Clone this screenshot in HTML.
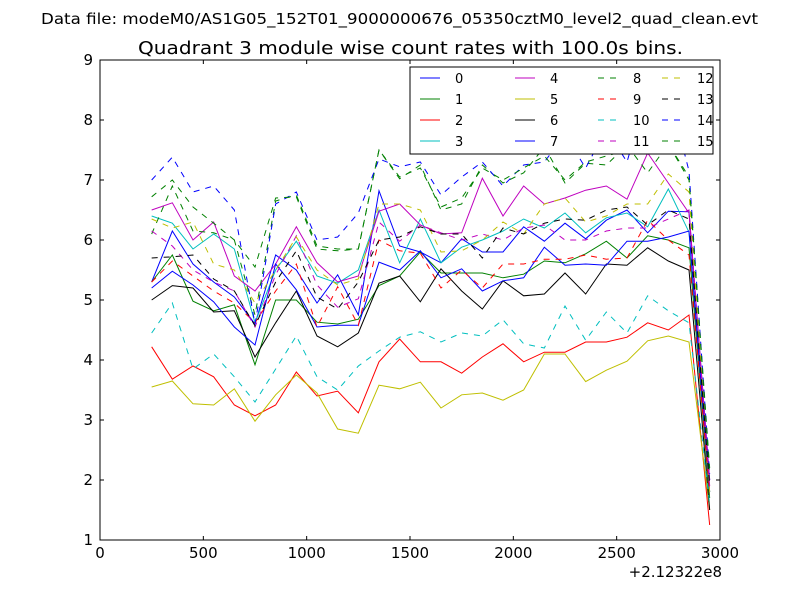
<!DOCTYPE html>
<html><head><meta charset="utf-8"><style>
body{margin:0;background:#fff;}
svg text{font-family:"DejaVu Sans","Liberation Sans",sans-serif;}
</style></head><body>
<svg id="chart" width="800" height="600" xmlns="http://www.w3.org/2000/svg">
<rect width="800" height="600" fill="#fff"/>
<text x="41" y="24" font-size="15" textLength="717" lengthAdjust="spacingAndGlyphs">Data file: modeM0/AS1G05_152T01_9000000676_05350cztM0_level2_quad_clean.evt</text>
<text x="138" y="54" font-size="18" textLength="545" lengthAdjust="spacingAndGlyphs">Quadrant 3 module wise count rates with 100.0s bins.</text>
<g id="plot"></g>
<rect x="100" y="60" width="620" height="480" fill="none" stroke="#000" stroke-width="1"/>
<g id="axes"></g>
<g id="legend"></g>
<text x="722" y="577" font-size="15" text-anchor="end">+2.12322e8</text>
</svg>
<script>
const xValues=[250,350,450,550,650,750,850,950,1050,1150,1250,1350,1450,1550,1650,1750,1850,1950,2050,2150,2250,2350,2450,2550,2650,2750,2850,2950];
const xTicks=[0,500,1000,1500,2000,2500,3000];
const yTicks=[1,2,3,4,5,6,7,8,9];
const seriesLabels=["0","1","2","3","4","5","6","7","8","9","10","11","12","13","14","15"];
const s0=[5.3,6.15,5.6,5.3,5.05,4.6,5.75,5.5,4.95,5.42,4.75,6.82,5.9,5.8,5.62,6.02,5.8,5.8,6.22,5.98,6.28,6.02,6.33,6.5,6.12,6.48,6.47,2.0];
const s1=[5.3,5.75,4.98,4.82,4.92,3.92,5.0,5.0,4.63,4.6,4.68,5.24,5.4,5.8,5.45,5.45,5.45,5.37,5.43,5.65,5.62,5.77,5.98,5.7,6.07,6.0,5.87,1.7];
const s2=[4.22,3.68,3.9,3.72,3.25,3.07,3.25,3.8,3.4,3.48,3.12,3.97,4.35,3.97,3.97,3.78,4.05,4.27,3.97,4.13,4.13,4.3,4.3,4.38,4.62,4.5,4.75,1.25];
const s3=[6.4,6.28,5.85,6.1,5.85,4.62,5.5,5.98,5.4,5.28,5.5,6.5,5.62,6.35,5.62,5.88,6.0,6.15,6.35,6.2,6.45,6.12,6.37,6.45,6.22,6.85,6.13,1.8];
const s4=[6.5,6.62,6.0,6.3,5.4,5.15,5.6,6.22,5.62,5.3,5.4,6.48,6.6,6.25,6.1,6.12,7.03,6.4,6.9,6.6,6.7,6.83,6.9,6.68,7.45,6.95,6.45,2.0];
const s5=[3.55,3.65,3.27,3.25,3.52,2.98,3.42,3.75,3.45,2.85,2.78,3.58,3.52,3.63,3.2,3.42,3.45,3.33,3.5,4.1,4.1,3.64,3.83,3.98,4.32,4.4,4.3,1.5];
const s6=[5.0,5.24,5.2,4.8,4.82,4.05,4.62,5.15,4.4,4.22,4.45,5.28,5.4,4.97,5.52,5.15,4.85,5.32,5.07,5.1,5.45,5.1,5.6,5.58,5.87,5.65,5.5,1.5];
const s7=[5.2,5.48,5.25,4.97,4.55,4.25,5.6,5.17,4.55,4.58,4.58,5.63,5.5,5.82,5.37,5.52,5.15,5.32,5.37,5.88,5.58,5.6,5.58,5.98,5.98,6.05,6.15,1.8];
const s8=[6.1,6.9,6.15,6.12,6.0,4.75,6.65,6.75,5.9,5.85,5.85,7.5,7.02,7.25,6.5,6.6,7.25,6.95,7.12,7.55,6.95,7.28,7.25,7.58,7.12,7.6,7.05,2.2];
const s9=[5.3,5.65,5.4,5.15,4.95,4.62,5.15,5.6,4.55,5.22,4.58,6.0,5.82,5.78,5.2,5.5,5.2,5.6,5.6,5.68,5.68,5.75,5.68,5.7,6.33,6.0,5.75,1.8];
const s10=[4.45,4.95,3.85,4.1,3.72,3.3,3.85,4.4,3.72,3.5,3.9,4.15,4.38,4.47,4.3,4.45,4.4,4.67,4.27,4.2,4.9,4.33,4.8,4.45,5.07,4.82,4.62,1.6];
const s11=[6.15,5.9,5.5,5.3,5.15,4.55,5.42,6.07,5.25,4.88,5.02,6.3,5.98,6.25,6.12,6.0,6.1,6.0,6.2,6.25,6.0,6.0,6.15,6.2,6.2,6.35,6.5,1.9];
const s12=[6.35,6.2,6.3,5.6,5.5,4.95,5.5,6.05,5.5,5.25,5.35,6.6,6.6,6.5,5.8,5.82,6.0,6.3,6.1,6.6,6.7,6.3,6.4,6.6,6.6,7.1,6.8,1.8];
const s13=[5.7,5.72,5.75,5.35,5.15,4.57,5.3,5.82,5.05,4.85,5.3,6.0,6.05,6.22,6.1,6.1,5.7,6.2,6.1,6.28,6.35,6.33,6.5,6.55,6.25,6.5,6.35,1.9];
const s14=[7.0,7.38,6.8,6.9,6.5,4.6,6.6,6.8,6.0,6.05,6.45,7.35,7.22,7.3,6.75,7.05,7.3,6.9,7.25,7.3,7.75,7.2,7.85,7.3,8.5,8.5,7.15,2.1];
const s15=[6.72,7.0,6.55,6.28,6.0,5.55,6.7,6.72,5.85,5.82,5.85,7.5,7.05,7.2,6.55,6.7,7.2,7.0,7.2,7.4,7.0,7.3,7.4,7.5,7.55,7.6,7.0,2.1];
const allSeries=[s0,s1,s2,s3,s4,s5,s6,s7,s8,s9,s10,s11,s12,s13,s14,s15];
const colors=["#0000ff","#008000","#ff0000","#00bfbf","#bf00bf","#bfbf00","#000000","#0000ff","#008000","#ff0000","#00bfbf","#bf00bf","#bfbf00","#000000","#0000ff","#008000"];
const NS="http://www.w3.org/2000/svg";
function xs(v){return 100+v*620/3000;}
function ys(v){return 540-(v-1)*60;}
const plot=document.getElementById('plot');
allSeries.forEach((s,i)=>{
  const p=document.createElementNS(NS,'polyline');
  p.setAttribute('points',s.map((v,j)=>xs(xValues[j])+','+ys(v)).join(' '));
  p.setAttribute('fill','none');p.setAttribute('stroke',colors[i]);p.setAttribute('stroke-width','1');
  if(i>=8)p.setAttribute('stroke-dasharray','6,6');
  
  
  plot.appendChild(p);
});
const axes=document.getElementById('axes');
xTicks.forEach(t=>{
  const x=xs(t);
  const l=document.createElementNS(NS,'path');
  l.setAttribute('d','M'+x+',540v-4M'+x+',60v4');l.setAttribute('stroke','#000');
  
  
  axes.appendChild(l);
  const tx=document.createElementNS(NS,'text');
  tx.setAttribute('x',x);tx.setAttribute('y',558);tx.setAttribute('font-size','15');tx.setAttribute('text-anchor','middle');
  tx.textContent=t;
  
  
  axes.appendChild(tx);
});
yTicks.forEach(t=>{
  const y=ys(t);
  const l=document.createElementNS(NS,'path');
  l.setAttribute('d','M100,'+y+'h4M720,'+y+'h-4');l.setAttribute('stroke','#000');
  
  
  axes.appendChild(l);
  const tx=document.createElementNS(NS,'text');
  tx.setAttribute('x',93);tx.setAttribute('y',y+5);tx.setAttribute('font-size','15');tx.setAttribute('text-anchor','end');
  tx.textContent=t;
  
  
  axes.appendChild(tx);
});
const leg=document.getElementById('legend');
const box=document.createElementNS(NS,'rect');
box.setAttribute('x',410);box.setAttribute('y',67);box.setAttribute('width',303);box.setAttribute('height',87);
box.setAttribute('fill','#fff');box.setAttribute('stroke','#000');


leg.appendChild(box);
const colX=[420,515,598,662];
seriesLabels.forEach((lab,i)=>{
  const c=Math.floor(i/4),r=i%4;const y=78+r*21;
  const l=document.createElementNS(NS,'line');
  l.setAttribute('x1',colX[c]);l.setAttribute('x2',colX[c]+20);l.setAttribute('y1',y);l.setAttribute('y2',y);
  l.setAttribute('stroke',colors[i]);if(i>=8)l.setAttribute('stroke-dasharray','6,6');
  
  
  leg.appendChild(l);
  const t=document.createElementNS(NS,'text');
  t.setAttribute('x',colX[c]+35);t.setAttribute('y',y+5);t.setAttribute('font-size','13');
  t.textContent=lab;
  
  
  leg.appendChild(t);
});
</script>
</body></html>
